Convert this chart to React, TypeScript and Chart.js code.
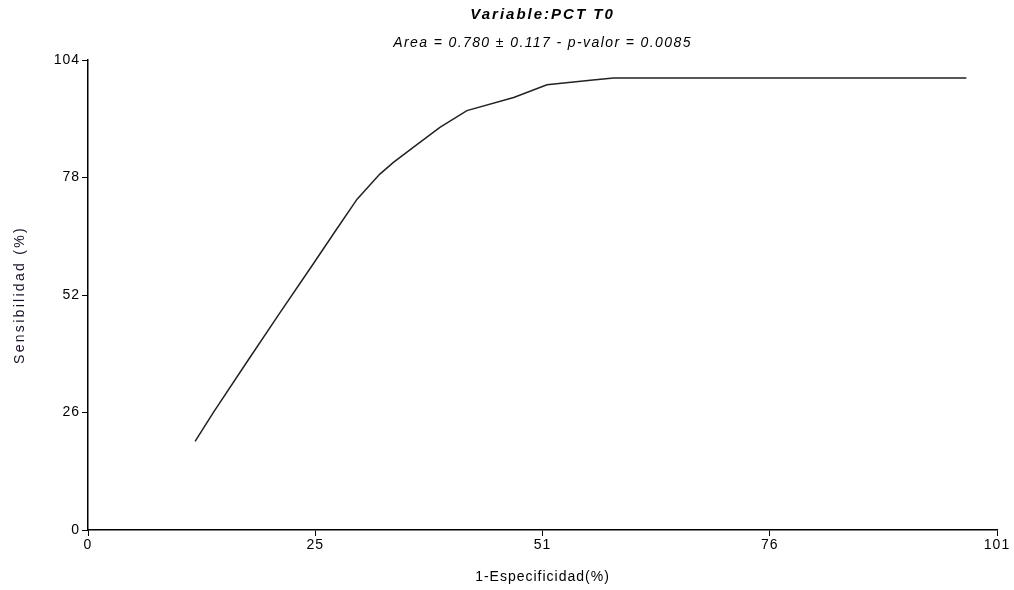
import React, { useEffect, useRef } from "react";
import { Chart, registerables } from "chart.js";

Chart.register(...registerables);

const xValues = [11.9, 13.9, 17.6, 21.3, 25.0, 27.6, 29.9, 32.4, 33.9, 36.1, 39.1, 42.1, 47.3, 51.0, 56.1, 58.4, 97.6];
const yValues = [19.6, 25.9, 37.0, 48.0, 58.8, 66.5, 73.2, 78.7, 81.3, 84.6, 89.1, 92.8, 95.7, 98.5, 99.6, 100, 100];
const xTicks = [0, 25.25, 50.5, 75.75, 101];
const yTicks = [0, 26, 52, 78, 104];
const titleText = "Variable:PCT T0";
const subtitleText = "Area = 0.780 ± 0.117 - p-valor = 0.0085";
const xTitle = "1-Especificidad(%)";
const yTitle = "Sensibilidad (%)";

const FONT = "'Liberation Sans', Arial, sans-serif";

const spacingPlugin = {
  id: "letterSpacingPlugin",
  beforeDraw(chart: any) {
    chart.ctx.letterSpacing = "1px";
  },
  afterLayout(chart: any) {
    const wrap = (obj: any, key: string, sp: string) => {
      if (!obj || obj["__wrapped_" + key]) return;
      const orig = obj[key].bind(obj);
      obj[key] = (...args: any[]) => {
        const ctx = chart.ctx;
        const prev = ctx.letterSpacing;
        ctx.letterSpacing = sp;
        orig(...args);
        ctx.letterSpacing = prev;
      };
      obj["__wrapped_" + key] = true;
    };
    chart.boxes.forEach((b: any) => {
      const t = b.options && b.options.text;
      if (t === titleText) wrap(b, "draw", "2px");
      else if (t === subtitleText) wrap(b, "draw", "1.4px");
    });
    wrap(chart.scales.y, "drawTitle", "2.3px");
  },
};

export default function App() {
  const ref = useRef<HTMLCanvasElement | null>(null);
  useEffect(() => {
    if (!ref.current) return;
    const data = xValues.map((x, i) => ({ x, y: yValues[i] }));
    const chart = new Chart(ref.current, {
      type: "scatter",
      data: {
        datasets: [
          {
            data,
            showLine: true,
            borderColor: "#222",
            borderWidth: 1.5,
            pointRadius: 0,
            tension: 0,
          },
        ],
      },
      plugins: [spacingPlugin as any],
      options: {
        animation: false,
        responsive: false,
        maintainAspectRatio: false,
        layout: { padding: { left: 0, right: 17, top: 0, bottom: 0 } },
        plugins: {
          legend: { display: false },
          tooltip: { enabled: false },
          title: {
            display: true,
            text: titleText,
            fullSize: false,
            color: "#000",
            font: { family: FONT, size: 15, weight: "bold", style: "italic" },
            padding: { top: 6, bottom: 5 },
          },
          subtitle: {
            display: true,
            text: subtitleText,
            fullSize: false,
            color: "#000",
            font: { family: FONT, size: 14, style: "italic" },
            padding: { top: 6, bottom: 8.2 },
          },
        },
        scales: {
          x: {
            type: "linear",
            min: 0,
            max: 101,
            afterBuildTicks: (s: any) => {
              s.ticks = xTicks.map((v) => ({ value: v }));
            },
            afterFit: (s: any) => {
              s.height = 60;
            },
            ticks: {
              color: "#000",
              font: { family: FONT, size: 14 },
              padding: 1,
              maxRotation: 0,
              autoSkip: false,
              callback: (v: any) => String(Math.round(Number(v))),
            },
            grid: {
              display: true,
              drawOnChartArea: false,
              drawTicks: true,
              tickLength: 6,
              color: "#000",
              lineWidth: 1,
            },
            border: { display: true, color: "#000", width: 1.5 },
            title: {
              display: true,
              text: xTitle,
              color: "#000",
              font: { family: FONT, size: 14 },
              padding: { top: 0, bottom: 4.6 },
            },
          },
          y: {
            type: "linear",
            min: 0,
            max: 104,
            afterBuildTicks: (s: any) => {
              s.ticks = yTicks.map((v) => ({ value: v }));
            },
            afterFit: (s: any) => {
              s.width = 88;
            },
            ticks: {
              color: "#000",
              font: { family: FONT, size: 14 },
              padding: 2,
              autoSkip: false,
              callback: (v: any) => String(Math.round(Number(v))),
            },
            grid: {
              display: true,
              drawOnChartArea: false,
              drawTicks: true,
              tickLength: 6,
              color: "#000",
              lineWidth: 1,
            },
            border: { display: true, color: "#000", width: 1.5 },
            title: {
              display: true,
              text: yTitle,
              color: "#1a1028",
              font: { family: FONT, size: 14 },
              padding: { top: 11.6, bottom: 0 },
            },
          },
        },
      },
    });
    return () => chart.destroy();
  }, []);
  return (
    <div style={{ position: "absolute", left: 0, top: 0, width: 1014, height: 590, background: "#fff" }}>
      <canvas ref={ref} width={1014} height={590} style={{ width: 1014, height: 590, display: "block" }} />
    </div>
  );
}
